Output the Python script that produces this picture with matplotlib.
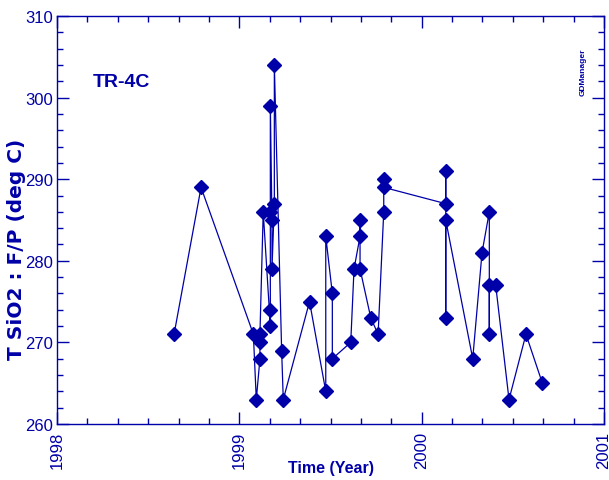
import matplotlib
matplotlib.use("Agg")
import matplotlib.pyplot as plt
from matplotlib.ticker import MultipleLocator, FormatStrFormatter

# Sample times (decimal year) and silica geothermometer values, in sampling order
years = [
    1998.642, 1998.790,
    1999.077, 1999.093, 1999.113, 1999.113, 1999.113, 1999.131,
    1999.170, 1999.170, 1999.170, 1999.170,
    1999.179, 1999.179, 1999.192, 1999.192,
    1999.232, 1999.241, 1999.385,
    1999.474, 1999.474, 1999.510, 1999.510, 1999.611, 1999.629,
    1999.662, 1999.662, 1999.662, 1999.721, 1999.761,
    1999.792, 1999.792, 1999.792,
    2000.132, 2000.132, 2000.132, 2000.132,
    2000.280, 2000.331, 2000.371, 2000.371, 2000.371,
    2000.406, 2000.479, 2000.572, 2000.662,
]
tsio2 = [
    271, 289,
    271, 263, 268, 270, 271, 286,
    272, 274, 286, 299,
    285, 279, 287, 304,
    269, 263, 275,
    264, 283, 276, 268, 270, 279,
    283, 285, 279, 273, 271,
    286, 290, 289,
    287, 291, 273, 285,
    268, 281, 286, 271, 277,
    277, 263, 271, 265,
]

well_name = "TR-4C"
x_label = "Time (Year)"
y_label = "T SiO2 : F/P (deg C)"

blue = "#0000A8"
bold_family = ["Liberation Sans", "DejaVu Sans"]
plt.rcParams["font.family"] = ["Liberation Sans Narrow", "Liberation Sans", "DejaVu Sans"]

fig = plt.figure(figsize=(6.09, 4.81), dpi=100)
ax = fig.add_axes([0.0936, 0.1164, 0.8982, 0.8483])

ax.plot(years, tsio2, color=blue, lw=0.9, marker="D", markersize=7,
        markerfacecolor=blue, markeredgecolor=blue)

ax.set_xlim(1998, 2001)
ax.set_ylim(260, 310)
ax.xaxis.set_major_locator(MultipleLocator(1))
ax.xaxis.set_minor_locator(MultipleLocator(1 / 6))
ax.yaxis.set_major_locator(MultipleLocator(10))
ax.yaxis.set_minor_locator(MultipleLocator(2))
ax.xaxis.set_major_formatter(FormatStrFormatter("%d"))

for side in ax.spines.values():
    side.set_color(blue)
    side.set_linewidth(1.0)

ax.tick_params(which="both", direction="in", top=True, right=True,
               color=blue, labelcolor=blue, labelsize=12, width=1.0)
ax.tick_params(which="major", length=8.5)
ax.tick_params(which="minor", length=4.3)
ax.tick_params(axis="y", pad=3)
ax.tick_params(axis="x", pad=5, labelrotation=90)

ax.set_xlabel(x_label, color=blue, fontsize=11.5, fontweight="bold",
              family=bold_family)
ax.xaxis.set_label_coords(0.5, -0.088)
ax.set_ylabel(y_label, color=blue, fontsize=14.5, fontweight="bold",
              family=["DejaVu Sans"])
ax.yaxis.set_label_coords(-0.057, 0.43)

ax.text(0.117, 0.84, well_name, transform=ax.transAxes, color=blue,
        fontsize=14, fontweight="bold", family=bold_family,
        ha="center", va="center")
fig.text(0.957, 0.85, "GDManager", rotation=90, color=blue, fontsize=6,
         fontweight="bold", family=bold_family,
         ha="center", va="center")

fig.savefig("out.png", dpi=100)
